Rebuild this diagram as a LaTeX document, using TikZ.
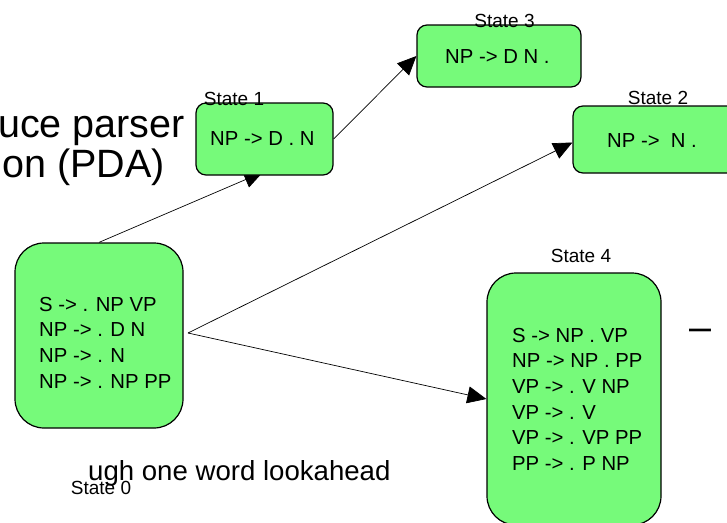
\documentclass[tikz,border=0pt]{standalone}
\usepackage{fontspec}
\setmainfont{Liberation Sans}
\usetikzlibrary{arrows.meta,backgrounds,calc}
\definecolor{stategreen}{RGB}{118,250,122}
\begin{document}
\begin{tikzpicture}[x=1pt,y=-1pt,
  statebox/.style={draw=black, line width=1.2pt, fill=stategreen, inner sep=0pt},
  bigbox/.style={statebox, rounded corners=29pt},
  smallbox/.style={statebox, rounded corners=10pt},
  rule/.style={inner sep=0pt, font={\fontsize{20.3}{25.6}\selectfont}},
  statelabel/.style={inner sep=0pt, anchor=base, font={\fontsize{19}{21}\selectfont}},
  slidetext/.style={inner sep=0pt, font={\fontsize{39.5}{44}\selectfont}},
  subtext/.style={inner sep=0pt, font={\fontsize{27.6}{32}\selectfont}},
  arr/.style={line width=0.7pt, -{Triangle[length=19pt,width=17pt]}}]
\useasboundingbox (0,0) rectangle (727,522);

% slide text behind the diagram
\node[slidetext, anchor=base east] (st1) at (185,137) {uce parser};
\node[slidetext, anchor=base east] (st2) at (165,177) {on (PDA)};
\node[subtext, anchor=base west] (st3) at (88,480) {ugh one word lookahead};
\node[slidetext, anchor=base west] (st4) at (689,340) {–};

% state boxes
\node[bigbox, minimum width=168pt, minimum height=185pt] (s0) at (99,335.5) {};
\node[smallbox, minimum width=137pt, minimum height=72pt] (s1) at (264.5,139) {};
\node[smallbox, minimum width=164pt, minimum height=62pt] (s3) at (499,56) {};
\node[smallbox, minimum width=164pt, minimum height=67pt] (s2) at (655,139.5) {};
\node[bigbox, minimum width=174pt, minimum height=252pt] (s4) at (574,399) {};

% rules
\node[rule, anchor=north west, align=left] (t0) at (39,297) {S -> . NP VP\\NP -> . D N\\NP -> . N\\NP -> . NP PP};
\node[rule, anchor=base west] (t1) at (210,145) {NP -> D . N};
\node[rule, anchor=base west] (t3) at (445,63) {NP -> D N .};
\node[rule, anchor=base west] (t2) at (607,147) {NP ->\ \ N .};
\node[rule, anchor=north west, align=left] (t4) at (512,328) {S -> NP . VP\\NP -> NP . PP\\VP -> . V NP\\VP -> . V\\VP -> . VP PP\\PP -> . P NP};

% labels
\node[statelabel] (l0) at (101,494) {State 0};
\node[statelabel] (l1) at (234,105) {State 1};
\node[statelabel] (l3) at (504.5,27) {State 3};
\node[statelabel] (l2) at (658,104) {State 2};
\node[statelabel] (l4) at (581,262) {State 4};

\coordinate (fork) at (188,333);

\begin{scope}[on background layer]
\draw[arr, shorten >=-9pt] (s0.north) -- ($(s1.south west)!0.43!(s1.south east)$);
\draw[arr] (s1.east) -- (s3.west);
\draw[arr] (fork) -- ($(s2.west)+(0,3)$);
\draw[arr] (fork) -- (s4.west);
\end{scope}
\end{tikzpicture}
\end{document}
